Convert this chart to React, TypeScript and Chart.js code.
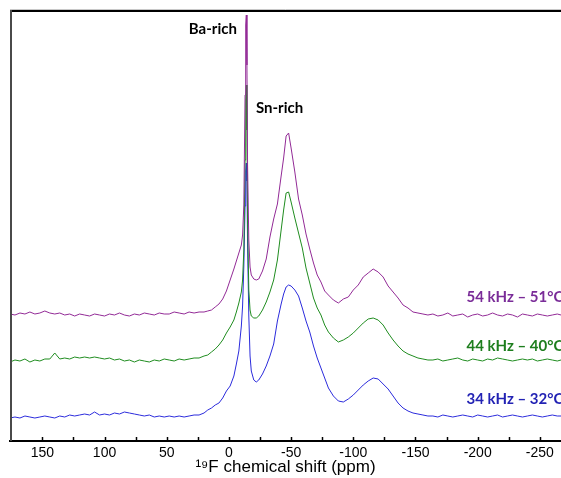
import React, { useEffect, useRef } from "react";
import { Chart, registerables } from "chart.js";

Chart.register(...registerables);

// 19F chemical shift (ppm), shared by the three spectra
const shiftPpm = [
  176, 172, 168, 164, 160, 156, 152, 148, 144, 140, 136, 132, 128, 124, 120, 116, 112, 108, 104, 100,
  96, 92, 88, 84, 80, 76, 72, 68, 64, 60, 56, 52, 48, 44, 40, 36, 32, 28, 24, 20,
  17, 14, 11, 8, 5, 2, -1, -4, -6, -8, -10,
  -11, -12, -13, -13.5, -14, -14.5, -15, -16, -17, -18, -20, -22, -24,
  -27, -30, -33, -36, -39, -42, -44, -46, -48, -50, -53, -56, -59, -62, -65, -68, -71, -74, -77, -80,
  -84, -88, -92, -96, -100, -104, -108, -112, -116, -120, -124, -128, -132, -136, -140, -144, -148, -152, -156, -160,
  -164, -168, -172, -176, -180, -184, -188, -192, -196, -200, -204, -208, -212, -216, -220, -224, -228, -232, -236, -240,
  -244, -248, -252, -256, -260, -264, -267,
];

// 54 kHz – 51°C intensity (a.u., above its own baseline)
const spectrum54 = [
  1, 0, 2, 1, 3, 1, 2, 4, 2, 1, 2, 0, 1, -1, 1, 0, -1, 1, 0, -1,
  1, 0, 2, 0, -1, 1, 0, 2, 1, 0, 2, 1, 1, 3, 2, 1, 3, 2, 3, 3,
  4, 5, 8, 11, 16, 24, 35, 46, 54, 62, 70,
  80, 110, 220, 290, 300, 250, 150, 75, 48, 40, 36, 35, 36,
  44, 56, 78, 96, 111, 139, 157, 179, 182, 167, 143, 116, 100, 81, 66, 52, 40, 33, 24, 20,
  15, 12, 16, 18, 25, 30, 38, 42, 46, 43, 38, 29, 23, 17, 10, 7, 3, 2, 1, 0,
  1, -1, 0, 2, -1, 0, 1, -2, 0, 1, -1, 0, 2, 0, -1, 1, 0, -2, 1, 0,
  -1, 1, 0, -1, 0, 1, 0,
];

// 44 kHz – 40°C intensity
const spectrum44 = [
  -2, 0, -1, 1, -2, 0, -1, 1, 1, 7, 1, 2, 1, 3, 2, 3, 2, 3, 2, 1,
  2, 0, 1, -1, 0, -2, 0, -1, -2, 0, -1, 1, 0, -1, 1, 0, 1, 2, 2, 4,
  5, 8, 11, 15, 20, 27, 33, 40, 48, 57, 68,
  80, 110, 200, 260, 275, 230, 140, 70, 50, 44, 42, 42, 44,
  50, 58, 68, 80, 100, 130, 150, 167, 168, 158, 142, 127, 112, 92, 77, 62, 52, 45, 35, 28,
  22, 18, 20, 23, 27, 32, 37, 41, 42, 40, 35, 27, 20, 14, 9, 6, 4, 2, 1, 0,
  0, 1, -1, 0, 1, 2, 0, -1, 1, 0, -1, 1, 0, 2, 1, 0, -1, 0, 1, 0,
  1, -1, 0, 1, 0, -1, 0,
];

// 34 kHz – 32°C intensity
const spectrum34 = [
  -2, -1, -2, 0, -1, -2, -1, 0, -1, -2, 0, -1, 1, 0, 1, 2, 1, 4, 1, 2,
  1, 3, 2, 4, 3, 2, 1, 0, 1, -1, 0, -1, 0, -1, 0, -1, 0, 1, 1, 3,
  6, 8, 11, 13, 18, 25, 30, 40, 52, 65, 90,
  110, 150, 210, 245, 253, 235, 170, 100, 60, 45, 36, 34, 36,
  42, 50, 60, 72, 95, 112, 122, 129, 131, 130, 126, 120, 108, 95, 84, 70, 58, 48, 38, 28,
  20, 15, 14, 17, 21, 26, 31, 35, 38, 37, 32, 27, 20, 13, 8, 5, 3, 2, 1, 0,
  0, -1, 1, 0, -1, 0, 1, 0, -1, 1, 0, -1, 0, 1, -1, 0, 1, 0, -1, 0,
  1, 0, -1, 0, 1, 0, 0,
];

// vertical stacking offsets of the spectra (a.u.)
const offset54 = 126;
const offset44 = 81;
const offset34 = 25;

const seriesNames = ["54 kHz – 51°C", "44 kHz – 40°C", "34 kHz – 32°C"];
const xTickValues = [150, 125, 100, 75, 50, 25, 0, -25, -50, -75, -100, -125, -150, -175, -200, -225, -250];
const xMin = -267;
const xMax = 176;
const yMax = 431;

const colors = {
  line54: "#922a96",
  line44: "#1f8c1f",
  line34: "#2b2bdc",
  text54: "#7a2c98",
  text44: "#1e7e1e",
  text34: "#2323b4",
};

// text annotations, anchored in data coordinates
const annotations = [
  { text: "Ba-rich", x: 12.9, y: 412, color: "#000", align: "center" },
  { text: "Sn-rich", x: -21.7, y: 333, color: "#000", align: "left" },
  { text: seriesNames[0], x: -191, y: 144, color: colors.text54, align: "left" },
  { text: seriesNames[1], x: -191, y: 95, color: colors.text44, align: "left" },
  { text: seriesNames[2], x: -191, y: 42, color: colors.text34, align: "left" },
];

const framePlugin = {
  id: "framePlugin",
  afterDraw(chart: any) {
    const { ctx, chartArea: a, scales } = chart;
    ctx.save();
    // top rule
    ctx.strokeStyle = "#c8c8c8";
    ctx.lineWidth = 1;
    ctx.beginPath();
    ctx.moveTo(a.left, a.top - 0.5);
    ctx.lineTo(a.right, a.top - 0.5);
    ctx.stroke();
    ctx.strokeStyle = "#000";
    ctx.lineWidth = 2;
    ctx.beginPath();
    ctx.moveTo(a.left, a.top + 1);
    ctx.lineTo(a.right, a.top + 1);
    ctx.stroke();
    // left axis
    ctx.strokeStyle = "#4a4a4a";
    ctx.lineWidth = 2;
    ctx.beginPath();
    ctx.moveTo(a.left + 1, a.top);
    ctx.lineTo(a.left + 1, a.bottom);
    ctx.stroke();
    // inward tick marks
    ctx.strokeStyle = "#000";
    ctx.lineWidth = 1.5;
    for (const v of xTickValues) {
      const px = Math.round(scales.x.getPixelForValue(v)) + 0.5;
      ctx.beginPath();
      ctx.moveTo(px, a.bottom);
      ctx.lineTo(px, a.bottom - 4);
      ctx.stroke();
    }
    // annotations
    ctx.font = "bold 15px Lato, 'Open Sans', sans-serif";
    ctx.textBaseline = "middle";
    for (const an of annotations) {
      ctx.fillStyle = an.color;
      ctx.textAlign = an.align as CanvasTextAlign;
      ctx.fillText(an.text, scales.x.getPixelForValue(an.x), scales.y.getPixelForValue(an.y));
    }
    ctx.restore();
  },
};

function toPoints(values: number[], offset: number) {
  return values.map((v, i) => ({ x: shiftPpm[i], y: v + offset }));
}

export default function App() {
  const canvasRef = useRef<HTMLCanvasElement | null>(null);

  useEffect(() => {
    const canvas = canvasRef.current;
    if (!canvas) return;
    const chart = new Chart(canvas, {
      type: "line",
      data: {
        datasets: [
          {
            label: seriesNames[0],
            data: toPoints(spectrum54, offset54),
            borderColor: colors.line54,
            borderWidth: 1,
            pointRadius: 0,
            tension: 0,
          },
          {
            label: seriesNames[1],
            data: toPoints(spectrum44, offset44),
            borderColor: colors.line44,
            borderWidth: 1,
            pointRadius: 0,
            tension: 0,
          },
          {
            label: seriesNames[2],
            data: toPoints(spectrum34, offset34),
            borderColor: colors.line34,
            borderWidth: 1,
            pointRadius: 0,
            tension: 0,
          },
        ],
      },
      options: {
        animation: false,
        responsive: false,
        devicePixelRatio: 1,
        layout: { padding: { left: 10, top: 10, right: 0, bottom: 0 } },
        plugins: {
          legend: { display: false },
          tooltip: { enabled: false },
        },
        scales: {
          x: {
            type: "linear",
            min: xMin,
            max: xMax,
            reverse: true,
            afterBuildTicks: (s: any) => {
              s.ticks = xTickValues.map((v) => ({ value: v }));
            },
            afterFit: (s: any) => {
              s.height = 37;
            },
            grid: { display: true, drawOnChartArea: false, drawTicks: false },
            border: { display: true, color: "#000", width: 2 },
            ticks: {
              autoSkip: false,
              maxRotation: 0,
              padding: 4,
              color: "#000",
              font: { family: "'Liberation Sans', Arial, sans-serif", size: 14 },
              callback: (v: any) => (Number(v) % 50 === 0 ? String(v) : ""),
            },
            title: {
              display: true,
              text: "¹⁹F chemical shift (ppm)",
              color: "#000",
              font: { family: "'Liberation Sans', Arial, sans-serif", size: 17 },
              padding: { top: 0, bottom: 0 },
            },
          },
          y: {
            type: "linear",
            display: false,
            min: 0,
            max: yMax,
          },
        },
      },
      plugins: [framePlugin],
    } as any);
    return () => chart.destroy();
  }, []);

  return (
    <div style={{ position: "fixed", left: 0, top: 0, width: 561, height: 478, background: "#fff" }}>
      <canvas ref={canvasRef} width={561} height={478} style={{ width: 561, height: 478, display: "block" }} />
    </div>
  );
}
